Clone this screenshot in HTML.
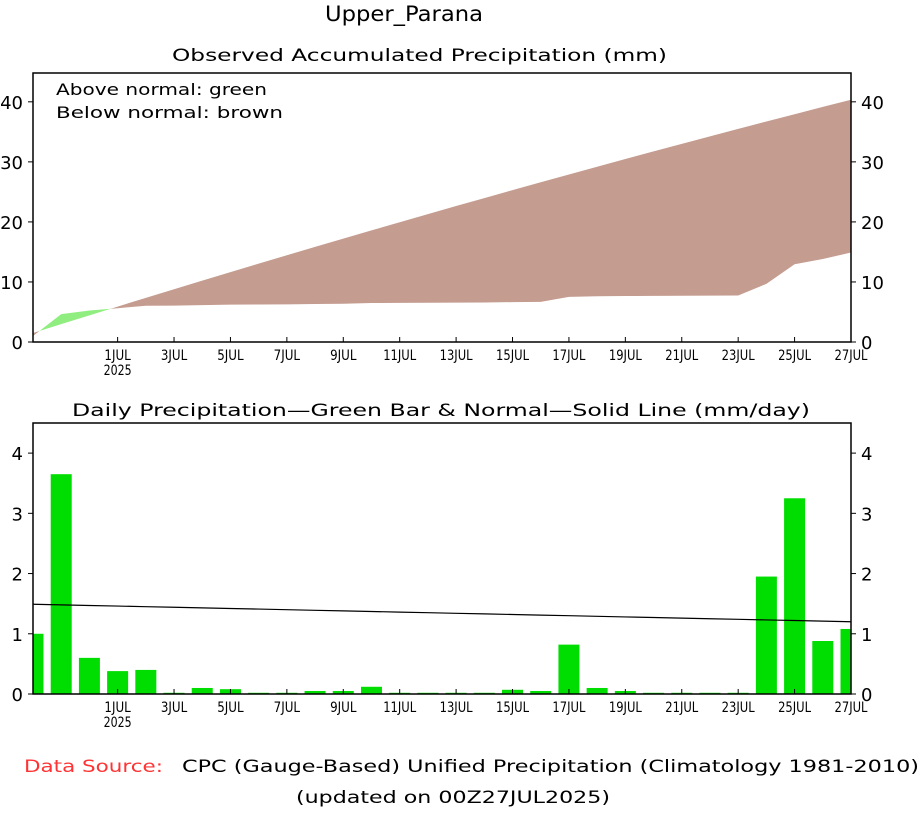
<!DOCTYPE html>
<html><head><meta charset="utf-8"><style>
body{margin:0;background:#fff;}
svg text{font-family:"DejaVu Sans","Liberation Sans",sans-serif;fill:#000;}
</style></head><body>
<svg id="c" width="921" height="809" viewBox="0 0 921 809" xmlns="http://www.w3.org/2000/svg"></svg>
<script>
const days=['28JUN','29JUN','30JUN','1JUL','2JUL','3JUL','4JUL','5JUL','6JUL','7JUL','8JUL','9JUL','10JUL','11JUL','12JUL','13JUL','14JUL','15JUL','16JUL','17JUL','18JUL','19JUL','20JUL','21JUL','22JUL','23JUL','24JUL','25JUL','26JUL','27JUL'];
const dailyObs=[1.0,3.65,0.6,0.38,0.4,0.02,0.1,0.08,0.02,0.02,0.05,0.05,0.12,0.02,0.02,0.02,0.02,0.07,0.05,0.82,0.1,0.05,0.02,0.02,0.02,0.02,1.95,3.25,0.88,1.08];
const dailyNormal=[1.49,1.48,1.47,1.46,1.45,1.44,1.43,1.42,1.41,1.40,1.39,1.38,1.37,1.36,1.35,1.34,1.33,1.32,1.31,1.30,1.29,1.28,1.27,1.26,1.25,1.24,1.23,1.22,1.21,1.20];
const xTickLabels=['1JUL','3JUL','5JUL','7JUL','9JUL','11JUL','13JUL','15JUL','17JUL','19JUL','21JUL','23JUL','25JUL','27JUL'];
const topTicks=[0,10,20,30,40];
const botTicks=[0,1,2,3,4];

const svg=document.getElementById('c');const NS='http://www.w3.org/2000/svg';
function mk(t,a,p){const e=document.createElementNS(NS,t);for(const k in a)e.setAttribute(k,a[k]);(p||svg).appendChild(e);return e;}
const X0=33,X1=851;
const x=i=>X0+(X1-X0)*i/(days.length-1);
const T0=342,T1=73,tMax=44.8;const yt=v=>T0-(T0-T1)*v/tMax;
const B0=694,B1=423,bMax=4.5;const yb=v=>B0-(B0-B1)*v/bMax;

function txt(s,xx,yy,a,name,size,col,len){const t=mk('text',{x:xx,y:yy,'font-size':size||15,'text-anchor':a||'middle'});t.textContent=s;if(col)t.setAttribute('style','fill:'+col);
 if(len){t.setAttribute('textLength',len);t.setAttribute('lengthAdjust','spacingAndGlyphs');}
 return t;}

txt('Upper_Parana',325,21,'start','main-title',21,null,158);
txt('Observed Accumulated Precipitation (mm)',172,61,'start','top-title',17,null,495);
txt('Daily Precipitation\u2014Green Bar & Normal\u2014Solid Line (mm/day)',72,416,'start','bottom-title',17,null,738);

let co=[],cn=[],so=0,sn=0;
for(let i=0;i<days.length;i++){so+=dailyObs[i];sn+=dailyNormal[i];co.push(so);cn.push(sn);}
const defs=mk('defs',{});
const obsPts=co.map((v,i)=>x(i)+','+yt(v)).join(' ');
const nrmPts=cn.map((v,i)=>x(i)+','+yt(v)).join(' ');
const cp1=mk('clipPath',{id:'aboveObs'},defs);mk('polygon',{points:obsPts+' '+X1+','+T1+' '+X0+','+T1},cp1);
const cp2=mk('clipPath',{id:'aboveNrm'},defs);mk('polygon',{points:nrmPts+' '+X1+','+T1+' '+X0+','+T1},cp2);
let e=mk('polygon',{points:nrmPts+' '+X1+','+T0+' '+X0+','+T0,fill:'#c49c90','clip-path':'url(#aboveObs)'});

e=mk('polygon',{points:obsPts+' '+X1+','+T0+' '+X0+','+T0,fill:'#90ee80','clip-path':'url(#aboveNrm)'});


txt('Above normal: green',56,95,'start','legend-above',16,null,211);
txt('Below normal: brown',56,118,'start','legend-below',16,null,227);

const bw=21;
const bcp=mk('clipPath',{id:'bclip'},defs);mk('rect',{x:X0,y:B1,width:X1-X0,height:B0-B1},bcp);
const bg=mk('g',{'clip-path':'url(#bclip)'});
dailyObs.forEach((v,i)=>{const r=mk('rect',{x:x(i)-bw/2,y:yb(v),width:bw,height:B0-yb(v),fill:'#00dd00'},bg);
});
e=mk('polyline',{points:dailyNormal.map((v,i)=>x(i)+','+yb(v)).join(' '),fill:'none',stroke:'#000','stroke-width':1.2});


function frame(top,bot,ticks,yf,nm){
 const r=mk('rect',{x:X0,y:top,width:X1-X0,height:bot-top,fill:'none',stroke:'#000','stroke-width':1.5});
 
 ticks.forEach(v=>{const yy=yf(v);mk('line',{x1:X0-5,x2:X0,y1:yy,y2:yy,stroke:'#000'});mk('line',{x1:X1,x2:X1+5,y1:yy,y2:yy,stroke:'#000'});
  txt(String(v),X0-10,yy+7,'end',nm+'-y-tick-left',18);txt(String(v),X1+10,yy+7,'start',nm+'-y-tick-right',18);});
 xTickLabels.forEach(l=>{const i=days.indexOf(l);const xx=x(i);mk('line',{x1:xx,x2:xx,y1:bot,y2:bot-5,stroke:'#000'});
  txt(l,xx,bot+18,'middle',nm+'-x-tick',14,null,l.length*6.6);});
 txt('2025',x(3),bot+33,'middle',nm+'-x-year',14,null,28);
}
frame(T1,T0,topTicks,yt,'top');
frame(B1,B0,botTicks,yb,'bottom');

txt('Data Source:',24,772,'start','data-source-label',17,'#ff3333',139);
txt('CPC (Gauge-Based) Unified Precipitation (Climatology 1981-2010)',182,772,'start','data-source',17,null,737);
txt('(updated on 00Z27JUL2025)',296,803,'start','updated-note',17,null,314);
</script>
</body></html>
